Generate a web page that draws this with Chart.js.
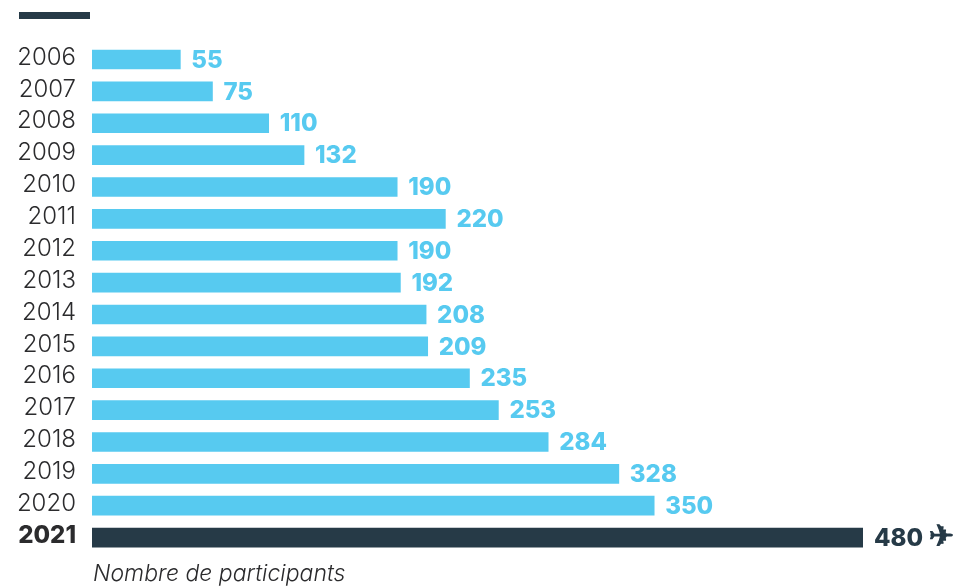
<!DOCTYPE html>
<html><head><meta charset="utf-8">
<style>html,body{margin:0;padding:0;background:#fff}#w{position:relative;width:954px;height:587px}</style>
<script src="https://cdn.jsdelivr.net/npm/chart.js@4"></script>
</head><body><div id="w"><canvas id="c" width="954" height="587"></canvas></div>
<script>
const years = ['2006','2007','2008','2009','2010','2011','2012','2013','2014','2015','2016','2017','2018','2019','2020','2021'];
const participants = [55,75,110,132,190,220,190,192,208,209,235,253,284,328,350,480];
const highlightYear = '2021';
const axisLabel = 'Nombre de participants';
const LIGHT = '#57caf0', DARK = '#263a47', TEXT = '#2b2b2d';
const FONT = 'Inter, "Open Sans", sans-serif';

const decor = {
  id: 'decor',
  afterDatasetsDraw(chart) {
    const {ctx, scales: {x, y}} = chart;
    ctx.save();
    ctx.fillStyle = DARK;
    ctx.fillRect(19, 12, 71, 7);
    ctx.textBaseline = 'middle';
    ctx.textAlign = 'left';
    participants.forEach((v, i) => {
      const hi = years[i] === highlightYear;
      ctx.fillStyle = hi ? DARK : LIGHT;
      const px = x.getPixelForValue(v) + 11;
      const py = y.getPixelForValue(i) + 1;
      ctx.font = '800 24px ' + FONT;
      ctx.fillText(String(v), px, py);
      if (hi) {
        const w = ctx.measureText(String(v)).width;
        ctx.font = '30px "DejaVu Sans"';
        ctx.strokeStyle = DARK;
        ctx.lineWidth = 1.2;
        ctx.fillText('\u2708', px + w + 6, py);
        ctx.strokeText('\u2708', px + w + 6, py);
      }
    });
    ctx.fillStyle = TEXT;
    ctx.font = 'italic 300 23px ' + FONT;
    ctx.textBaseline = 'alphabetic';
    ctx.fillText(axisLabel, 93, 581);
    ctx.restore();
  }
};

new Chart(document.getElementById('c'), {
  type: 'bar',
  data: {
    labels: years,
    datasets: [{
      data: participants,
      backgroundColor: years.map(y => y === highlightYear ? DARK : LIGHT),
      barThickness: 19,
      borderWidth: 0
    }]
  },
  options: {
    indexAxis: 'y',
    responsive: false,
    animation: false,
    devicePixelRatio: 1,
    layout: {padding: {top: 43.6, bottom: 33.5, left: 0, right: 91}},
    plugins: {legend: {display: false}, tooltip: {enabled: false}},
    scales: {
      x: {display: false, min: 0, max: 480},
      y: {
        afterFit(s) { s.width = 92; },
        grid: {display: false, drawTicks: false},
        border: {display: false},
        ticks: {
          padding: 16,
          labelOffset: -2,
          autoSkip: false,
          color: TEXT,
          font: c => ({family: FONT, size: 24, weight: years[c.index] === highlightYear ? '800' : '300'})
        }
      }
    }
  },
  plugins: [decor]
});
</script></body></html>
